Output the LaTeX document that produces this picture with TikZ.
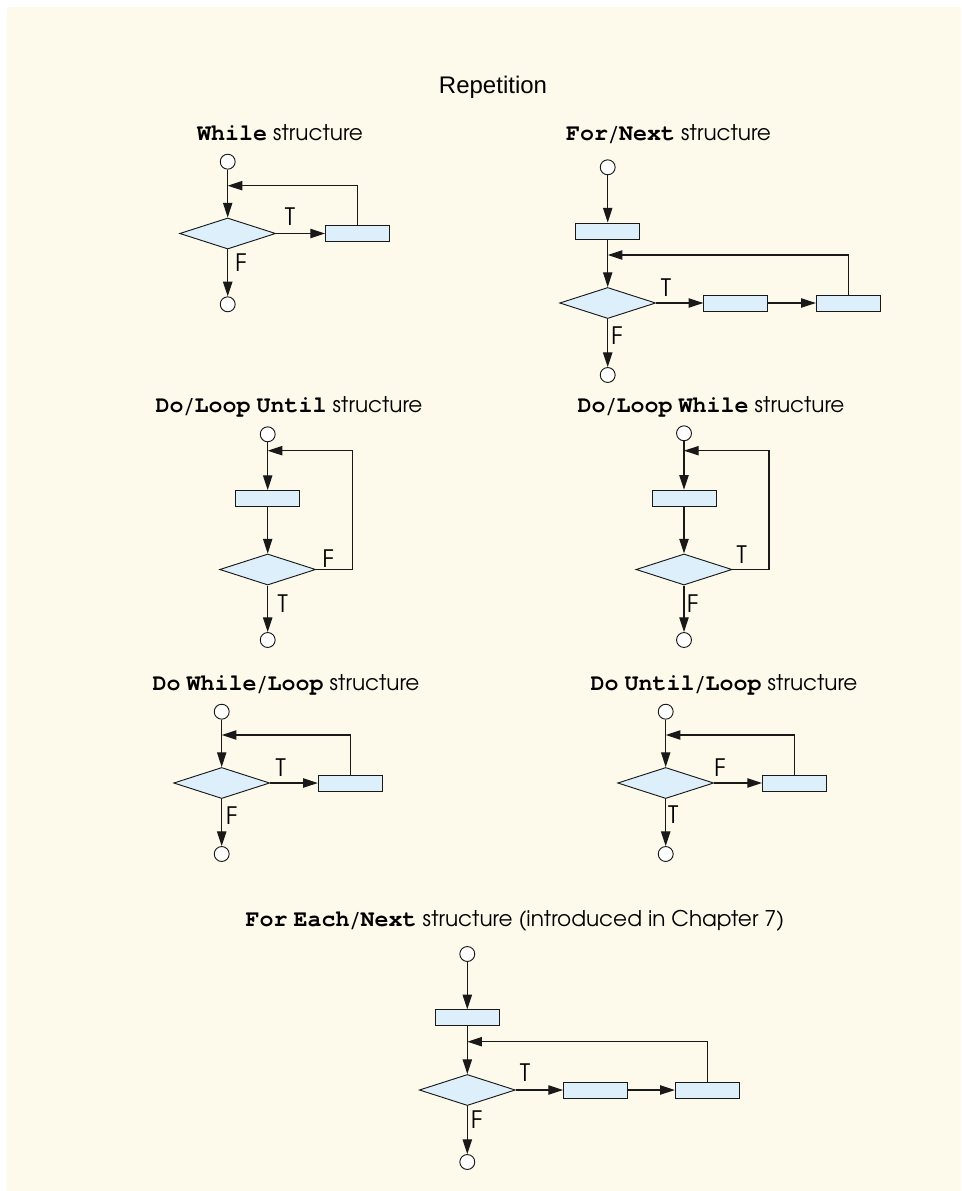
\documentclass[tikz,border=0pt]{standalone}
\usepackage{fontspec}
\usetikzlibrary{shapes.geometric,arrows.meta,calc}
\newfontfamily\advfont[Extension=.otf,UprightFont=texgyreadventor-regular,BoldFont=texgyreadventor-bold]{texgyreadventor}
\newfontfamily\monofont[Extension=.otf,UprightFont=texgyrecursor-regular,BoldFont=texgyrecursor-bold]{texgyrecursor}
\newfontfamily\headfont{Liberation Sans}
\definecolor{cream}{RGB}{254,250,235}
\definecolor{boxblue}{RGB}{220,239,251}
\definecolor{edge}{RGB}{25,25,25}
\newcommand{\kw}[1]{{\monofont\bfseries\fontsize{17.5}{20}\selectfont #1}}
\begin{document}
\begin{tikzpicture}[x=0.75pt,y=-0.75pt,
  circ/.style={circle,draw=edge,fill=white,line width=0.7pt,minimum size=11.2pt,inner sep=0pt},
  dia/.style={diamond,draw=edge,fill=boxblue,line width=0.7pt,minimum width=72pt,minimum height=23.3pt,inner sep=0pt},
  box/.style={rectangle,draw=edge,fill=boxblue,line width=0.7pt,minimum width=48pt,minimum height=12pt,inner sep=0pt},
  arr/.style={draw=edge,line width=0.85pt,-{Triangle[length=11pt,width=7pt]}},
  lab/.style={font=\advfont\fontsize{18}{20}\selectfont,inner sep=0pt},
  ttl/.style={font=\advfont\fontsize{16.2}{19}\selectfont,anchor=base,inner sep=0pt},
]
\useasboundingbox (0,0) rectangle (961,1191);
\fill[white] (0,0) rectangle (961,1191);
\fill[cream] (7,7) rectangle (961,1191);

\node[font=\headfont\fontsize{18}{21}\selectfont,anchor=base,inner sep=0pt] (rep) at (493,94) {Repetition};

% While
\node[ttl] (wt) at (280,140.5) {\kw{While} structure};
\node[circ] (w1) at (227.7,161.7) {};
\node[dia] (wd) at (227.7,233.5) {};
\node[box] (wb) at (357.5,233.5) {};
\node[circ] (w2) at (227.7,304.3) {};
\coordinate (wj) at (227.7,185.7);
\draw[arr] (w1) -- (wd);
\draw[arr] (wd) -- (wb);
\draw[arr] (wd) -- (w2);
\draw[arr] (wb.north) |- (wj);
\node[lab] (wT) at (290,216.7) {T};
\node[lab] (wF) at (241,263) {F};

% For/Next
\node[ttl] (ft) at (668.5,140.5) {\kw{For}/\kw{Next} structure};
\node[circ] (f1) at (607.7,167.3) {};
\node[box] (fa) at (607.7,231) {};
\node[dia] (fd) at (607.7,303) {};
\node[box] (fb) at (735.8,303) {};
\node[box] (fc) at (848.3,303) {};
\node[circ] (f2) at (607.7,375) {};
\coordinate (fj) at (607.7,255);
\draw[arr] (f1) -- (fa);
\draw[arr] (fa) -- (fd);
\draw[arr] (fd) -- (fb);
\draw[arr] (fb) -- (fc);
\draw[arr] (fd) -- (f2);
\draw[arr] (fc.north) |- (fj);
\node[lab] (fT) at (666,288) {T};
\node[lab] (fF) at (617,336) {F};

% Do/Loop Until
\node[ttl] (ut) at (289,412.5) {\kw{Do}/\kw{Loop} \kw{Until} structure};
\node[circ] (u1) at (267.7,434.3) {};
\node[box] (ub) at (267.7,498.5) {};
\node[dia] (ud) at (267.7,569.5) {};
\node[circ] (u2) at (267.7,640) {};
\coordinate (uj) at (267.7,450.7);
\coordinate (ux) at (352.3,450.7);
\draw[arr] (u1) -- (ub);
\draw[arr] (ub) -- (ud);
\draw[arr] (ud) -- (u2);
\draw[arr] (ud.east) -| (ux) -- (uj);
\node[lab] (uF) at (328.3,558.3) {F};
\node[lab] (uT) at (282.7,603.3) {T};

% Do/Loop While
\node[ttl] (lt) at (711,412) {\kw{Do}/\kw{Loop} \kw{While} structure};
\node[circ] (l1) at (684,433.3) {};
\node[box] (lb) at (684,498.2) {};
\node[dia] (ld) at (684,569.5) {};
\node[circ] (l2) at (684,640) {};
\coordinate (lj) at (684,450.7);
\coordinate (lx) at (769,450.7);
\draw[arr] (l1) -- (lb);
\draw[arr] (lb) -- (ld);
\draw[arr] (ld) -- (l2);
\draw[arr] (ld.east) -| (lx) -- (lj);
\node[lab] (lT) at (741.7,555) {T};
\node[lab] (lF) at (692.7,603.3) {F};

% Do While/Loop
\node[ttl] (dt) at (286,690) {\kw{Do} \kw{While}/\kw{Loop} structure};
\node[circ] (d1) at (221.7,711.7) {};
\node[dia] (dd) at (221.7,783) {};
\node[box] (db) at (350.3,783) {};
\node[circ] (d2) at (221.7,854) {};
\coordinate (dj) at (221.7,735);
\draw[arr] (d1) -- (dd);
\draw[arr] (dd) -- (db);
\draw[arr] (dd) -- (d2);
\draw[arr] (db.north) |- (dj);
\node[lab] (dT) at (280.7,767.3) {T};
\node[lab] (dF) at (231.7,816) {F};

% Do Until/Loop
\node[ttl] (et) at (724,690) {\kw{Do} \kw{Until}/\kw{Loop} structure};
\node[circ] (e1) at (665.7,711.7) {};
\node[dia] (ed) at (665.7,783) {};
\node[box] (eb) at (794.5,783) {};
\node[circ] (e2) at (665.7,854) {};
\coordinate (ej) at (665.7,735);
\draw[arr] (e1) -- (ed);
\draw[arr] (ed) -- (eb);
\draw[arr] (ed) -- (e2);
\draw[arr] (eb.north) |- (ej);
\node[lab] (eF) at (720,767.3) {F};
\node[lab] (eT) at (673.3,815) {T};

% For Each/Next
\node[ttl] (gt) at (515,926.5) {\kw{For} \kw{Each}/\kw{Next} structure (introduced in Chapter 7)};
\node[circ] (g1) at (467.3,954) {};
\node[box] (ga) at (467.3,1017.8) {};
\node[dia] (gd) at (467.3,1090) {};
\node[box] (gb) at (595.5,1090) {};
\node[box] (gc) at (707.3,1090) {};
\node[circ] (g2) at (467.3,1162) {};
\coordinate (gj) at (467.3,1041.7);
\draw[arr] (g1) -- (ga);
\draw[arr] (ga) -- (gd);
\draw[arr] (gd) -- (gb);
\draw[arr] (gb) -- (gc);
\draw[arr] (gd) -- (g2);
\draw[arr] (gc.north) |- (gj);
\node[lab] (gT) at (525,1072.7) {T};
\node[lab] (gF) at (476.7,1120) {F};
\end{tikzpicture}
\end{document}
